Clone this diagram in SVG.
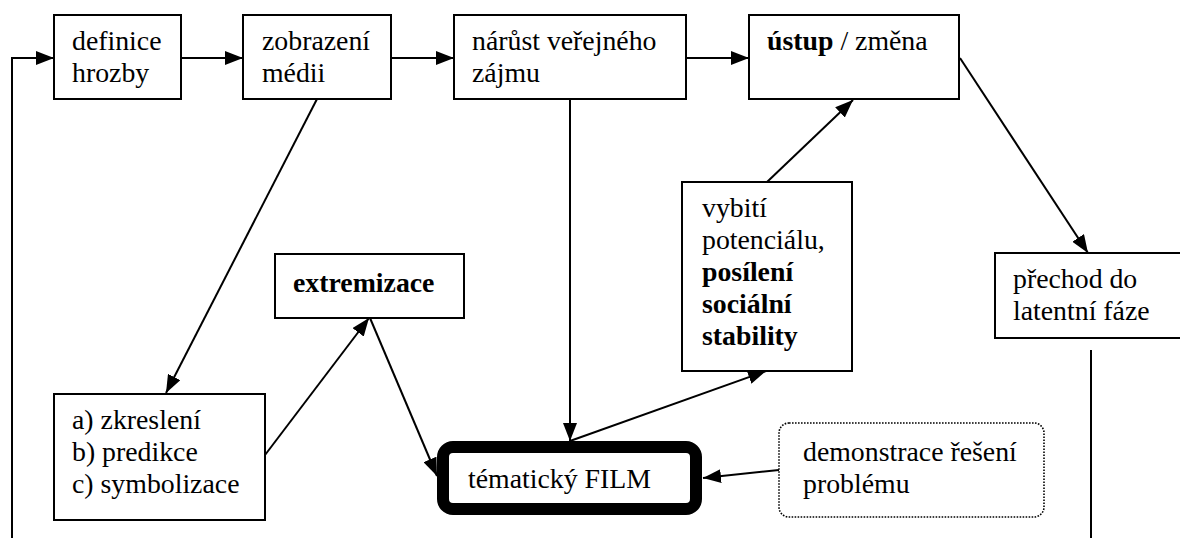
<svg xmlns="http://www.w3.org/2000/svg" width="1180" height="538" viewBox="0 0 1180 538">
<style>
.box{fill:#fff;stroke:#000;stroke-width:2}
.film{fill:#fff;stroke:#000;stroke-width:12}
.dot{fill:#fff;stroke:#000;stroke-width:1.6;stroke-dasharray:1.6 1.4}
.b{font-weight:bold}
.c{fill:none;stroke:#000;stroke-width:2}
.a{marker-end:url(#arr)}
</style>
<defs>
<marker id="arr" markerUnits="userSpaceOnUse" markerWidth="18" markerHeight="14" viewBox="0 0 18 14" refX="18" refY="7" orient="auto">
<path d="M0,0 L18,7 L0,14 Z" fill="#000"/>
</marker>
</defs>
<rect width="1180" height="538" fill="#fff"/>
<g id="connectors">
<polyline class="c a" points="12,538 12,58 54,58"/>
<line class="c a" x1="181" y1="58" x2="243" y2="58"/>
<line class="c a" x1="391" y1="58" x2="454" y2="58"/>
<line class="c a" x1="686" y1="58" x2="749" y2="58"/>
<line class="c a" x1="960" y1="58" x2="1088" y2="253"/>
<line class="c" x1="1091" y1="350" x2="1091" y2="538"/>
<line class="c a" x1="317" y1="99" x2="166" y2="393"/>
<line class="c a" x1="265" y1="455" x2="369" y2="318"/>
<line class="c a" x1="370" y1="318" x2="437" y2="476"/>
<line class="c a" x1="570" y1="99" x2="570" y2="441"/>
<line class="c a" x1="570" y1="441" x2="766" y2="371"/>
<line class="c a" x1="767" y1="182" x2="853" y2="100"/>
<line class="c a" x1="779" y1="470" x2="703" y2="478"/>
</g>
<g font-family="Liberation Serif, Times New Roman, Tinos, DejaVu Serif, serif" font-size="27.8" fill="#000">
<g id="n-definice">
<rect class="box" x="54" y="15" width="127" height="84"/>
<text x="72" y="50">definice</text>
<text x="72" y="82">hrozby</text>
</g>
<g id="n-zobrazeni">
<rect class="box" x="243" y="15" width="148" height="84"/>
<text x="262" y="50">zobrazení</text>
<text x="262" y="82">médii</text>
</g>
<g id="n-narust">
<rect class="box" x="454" y="15" width="232" height="84"/>
<text x="472" y="50">nárůst veřejného</text>
<text x="472" y="82">zájmu</text>
</g>
<g id="n-ustup">
<rect class="box" x="749" y="15" width="210" height="84"/>
<text x="767" y="50"><tspan class="b">ústup</tspan> / změna</text>
</g>
<g id="n-prechod">
<rect class="box" x="995" y="253" width="190" height="85"/>
<text x="1013" y="288">přechod do</text>
<text x="1013" y="320">latentní fáze</text>
</g>
<g id="n-vybiti">
<rect class="box" x="682" y="182" width="170" height="189"/>
<text x="702" y="217">vybití</text>
<text x="702" y="249">potenciálu,</text>
<text x="702" y="281" class="b">posílení</text>
<text x="702" y="313" class="b">sociální</text>
<text x="702" y="345" class="b">stability</text>
</g>
<g id="n-extremizace">
<rect class="box" x="275" y="254" width="189" height="64"/>
<text x="293" y="292" class="b">extremizace</text>
</g>
<g id="n-abc">
<rect class="box" x="54" y="394" width="211" height="126"/>
<text x="72" y="429">a) zkreslení</text>
<text x="72" y="461">b) predikce</text>
<text x="72" y="493">c) symbolizace</text>
</g>
<g id="n-film">
<rect class="film" x="443" y="447" width="253" height="62" rx="10" ry="10"/>
<text x="468" y="488">tématický FILM</text>
</g>
<g id="n-demonstrace">
<rect class="dot" x="779" y="423" width="265" height="94" rx="10" ry="10"/>
<text x="803" y="461">demonstrace řešení</text>
<text x="803" y="493">problému</text>
</g>
</g>
</svg>
